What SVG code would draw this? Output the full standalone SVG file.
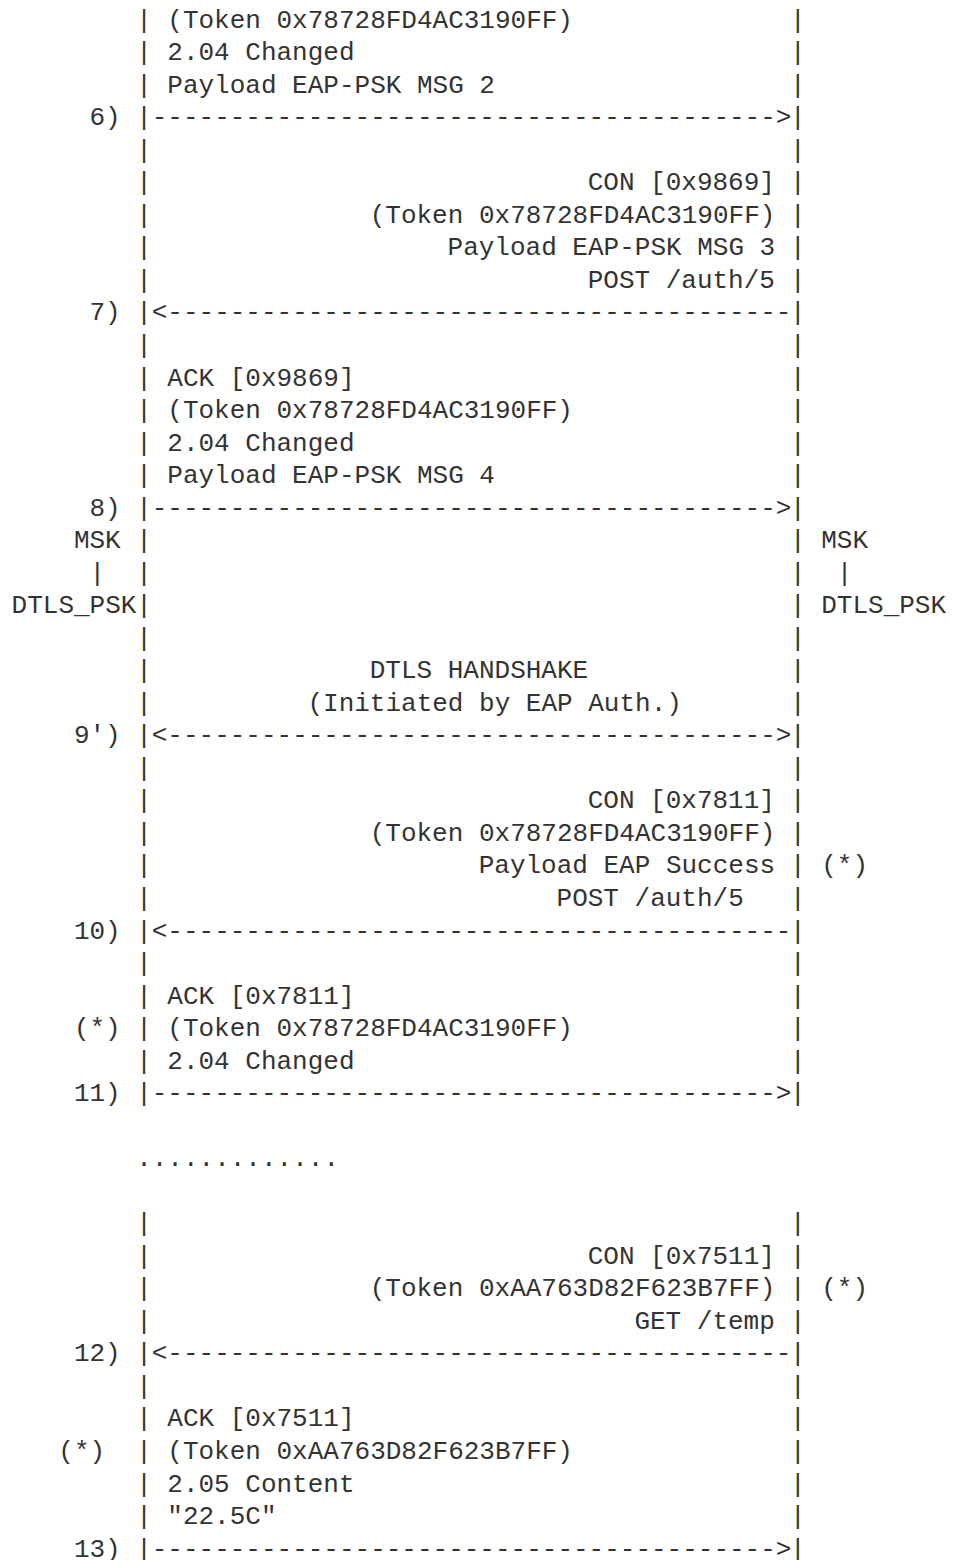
<svg xmlns="http://www.w3.org/2000/svg" width="953" height="1560" viewBox="0 0 953 1560">
<style>
.t{font-family:"Liberation Mono","DejaVu Sans Mono",monospace;font-size:26px;fill:#333;white-space:pre}
</style>
<rect width="953" height="1560" fill="#fff"/>
<g id="lifeline-left" class="t">
<text x="136.16" y="27.7">|</text><text x="136.16" y="60.23">|</text><text x="136.16" y="92.76">|</text>
<text x="136.16" y="157.82">|</text><text x="136.16" y="190.35">|</text><text x="136.16" y="222.88">|</text><text x="136.16" y="255.41">|</text><text x="136.16" y="287.94">|</text>
<text x="136.16" y="353.0">|</text><text x="136.16" y="385.53">|</text><text x="136.16" y="418.06">|</text><text x="136.16" y="450.59">|</text><text x="136.16" y="483.12">|</text>
<text x="136.16" y="548.18">|</text><text x="136.16" y="580.71">|</text><text x="136.16" y="613.24">|</text><text x="136.16" y="645.77">|</text><text x="136.16" y="678.3">|</text><text x="136.16" y="710.83">|</text>
<text x="136.16" y="775.89">|</text><text x="136.16" y="808.42">|</text><text x="136.16" y="840.95">|</text><text x="136.16" y="873.48">|</text><text x="136.16" y="906.01">|</text>
<text x="136.16" y="971.07">|</text><text x="136.16" y="1003.6">|</text><text x="136.16" y="1036.13">|</text><text x="136.16" y="1068.66">|</text>
<text x="136.16" y="1231.31">|</text><text x="136.16" y="1263.84">|</text><text x="136.16" y="1296.37">|</text><text x="136.16" y="1328.9">|</text>
<text x="136.16" y="1393.96">|</text><text x="136.16" y="1426.49">|</text><text x="136.16" y="1459.02">|</text><text x="136.16" y="1491.55">|</text><text x="136.16" y="1524.08">|</text>
</g>
<g id="lifeline-right" class="t">
<text x="790.1" y="27.7">|</text><text x="790.1" y="60.23">|</text><text x="790.1" y="92.76">|</text>
<text x="790.1" y="157.82">|</text><text x="790.1" y="190.35">|</text><text x="790.1" y="222.88">|</text><text x="790.1" y="255.41">|</text><text x="790.1" y="287.94">|</text>
<text x="790.1" y="353.0">|</text><text x="790.1" y="385.53">|</text><text x="790.1" y="418.06">|</text><text x="790.1" y="450.59">|</text><text x="790.1" y="483.12">|</text>
<text x="790.1" y="548.18">|</text><text x="790.1" y="580.71">|</text><text x="790.1" y="613.24">|</text><text x="790.1" y="645.77">|</text><text x="790.1" y="678.3">|</text><text x="790.1" y="710.83">|</text>
<text x="790.1" y="775.89">|</text><text x="790.1" y="808.42">|</text><text x="790.1" y="840.95">|</text><text x="790.1" y="873.48">|</text><text x="790.1" y="906.01">|</text>
<text x="790.1" y="971.07">|</text><text x="790.1" y="1003.6">|</text><text x="790.1" y="1036.13">|</text><text x="790.1" y="1068.66">|</text>
<text x="790.1" y="1231.31">|</text><text x="790.1" y="1263.84">|</text><text x="790.1" y="1296.37">|</text><text x="790.1" y="1328.9">|</text>
<text x="790.1" y="1393.96">|</text><text x="790.1" y="1426.49">|</text><text x="790.1" y="1459.02">|</text><text x="790.1" y="1491.55">|</text><text x="790.1" y="1524.08">|</text>
</g>
<g id="msg6" class="t">
<text x="167.3" y="27.7">(Token 0x78728FD4AC3190FF)</text>
<text x="167.3" y="60.23">2.04 Changed</text>
<text x="167.3" y="92.76">Payload EAP-PSK MSG 2</text>
</g>
<g id="msg7" class="t">
<text x="587.69" y="190.35">CON [0x9869]</text>
<text x="369.71" y="222.88">(Token 0x78728FD4AC3190FF)</text>
<text x="447.56" y="255.41">Payload EAP-PSK MSG 3</text>
<text x="587.69" y="287.94">POST /auth/5</text>
</g>
<g id="msg8" class="t">
<text x="167.3" y="385.53">ACK [0x9869]</text>
<text x="167.3" y="418.06">(Token 0x78728FD4AC3190FF)</text>
<text x="167.3" y="450.59">2.04 Changed</text>
<text x="167.3" y="483.12">Payload EAP-PSK MSG 4</text>
</g>
<g id="key-left" class="t">
<text x="73.88" y="548.18">MSK</text>
<text x="89.45" y="580.71">|</text>
<text x="11.6" y="613.24">DTLS_PSK</text>
</g>
<g id="key-right" class="t">
<text x="821.24" y="548.18">MSK</text>
<text x="836.81" y="580.71">|</text>
<text x="821.24" y="613.24">DTLS_PSK</text>
</g>
<g id="msg9" class="t">
<text x="369.71" y="678.3">DTLS HANDSHAKE</text>
<text x="307.43" y="710.83">(Initiated by EAP Auth.)</text>
</g>
<g id="msg10" class="t">
<text x="587.69" y="808.42">CON [0x7811]</text>
<text x="369.71" y="840.95">(Token 0x78728FD4AC3190FF)</text>
<text x="478.7" y="873.48">Payload EAP Success</text>
<text x="821.24" y="873.48">(*)</text>
<text x="556.55" y="906.01">POST /auth/5</text>
</g>
<g id="msg11" class="t">
<text x="167.3" y="1003.6">ACK [0x7811]</text>
<text x="73.88" y="1036.13">(*)</text>
<text x="167.3" y="1036.13">(Token 0x78728FD4AC3190FF)</text>
<text x="167.3" y="1068.66">2.04 Changed</text>
</g>
<g id="ellipsis" class="t">
<text x="136.16" y="1166.25">.............</text>
</g>
<g id="msg12" class="t">
<text x="587.69" y="1263.84">CON [0x7511]</text>
<text x="369.71" y="1296.37">(Token 0xAA763D82F623B7FF)</text>
<text x="821.24" y="1296.37">(*)</text>
<text x="634.4" y="1328.9">GET /temp</text>
</g>
<g id="msg13" class="t">
<text x="167.3" y="1426.49">ACK [0x7511]</text>
<text x="58.31" y="1459.02">(*)</text>
<text x="167.3" y="1459.02">(Token 0xAA763D82F623B7FF)</text>
<text x="167.3" y="1491.55">2.05 Content</text>
<text x="167.3" y="1524.08">"22.5C"</text>
</g>
<g id="connectors" class="t">
<text x="89.45" y="125.29">6)</text><text x="136.16" y="125.29">|</text><text x="151.73" y="125.29">----------------------------------------&gt;</text><text x="790.1" y="125.29">|</text>
<text x="89.45" y="320.47">7)</text><text x="136.16" y="320.47">|</text><text x="151.73" y="320.47">&lt;----------------------------------------</text><text x="790.1" y="320.47">|</text>
<text x="89.45" y="515.65">8)</text><text x="136.16" y="515.65">|</text><text x="151.73" y="515.65">----------------------------------------&gt;</text><text x="790.1" y="515.65">|</text>
<text x="73.88" y="743.36">9')</text><text x="136.16" y="743.36">|</text><text x="151.73" y="743.36">&lt;---------------------------------------&gt;</text><text x="790.1" y="743.36">|</text>
<text x="73.88" y="938.54">10)</text><text x="136.16" y="938.54">|</text><text x="151.73" y="938.54">&lt;----------------------------------------</text><text x="790.1" y="938.54">|</text>
<text x="73.88" y="1101.19">11)</text><text x="136.16" y="1101.19">|</text><text x="151.73" y="1101.19">----------------------------------------&gt;</text><text x="790.1" y="1101.19">|</text>
<text x="73.88" y="1361.43">12)</text><text x="136.16" y="1361.43">|</text><text x="151.73" y="1361.43">&lt;----------------------------------------</text><text x="790.1" y="1361.43">|</text>
<text x="73.88" y="1556.61">13)</text><text x="136.16" y="1556.61">|</text><text x="151.73" y="1556.61">----------------------------------------&gt;</text><text x="790.1" y="1556.61">|</text>
</g>
</svg>
